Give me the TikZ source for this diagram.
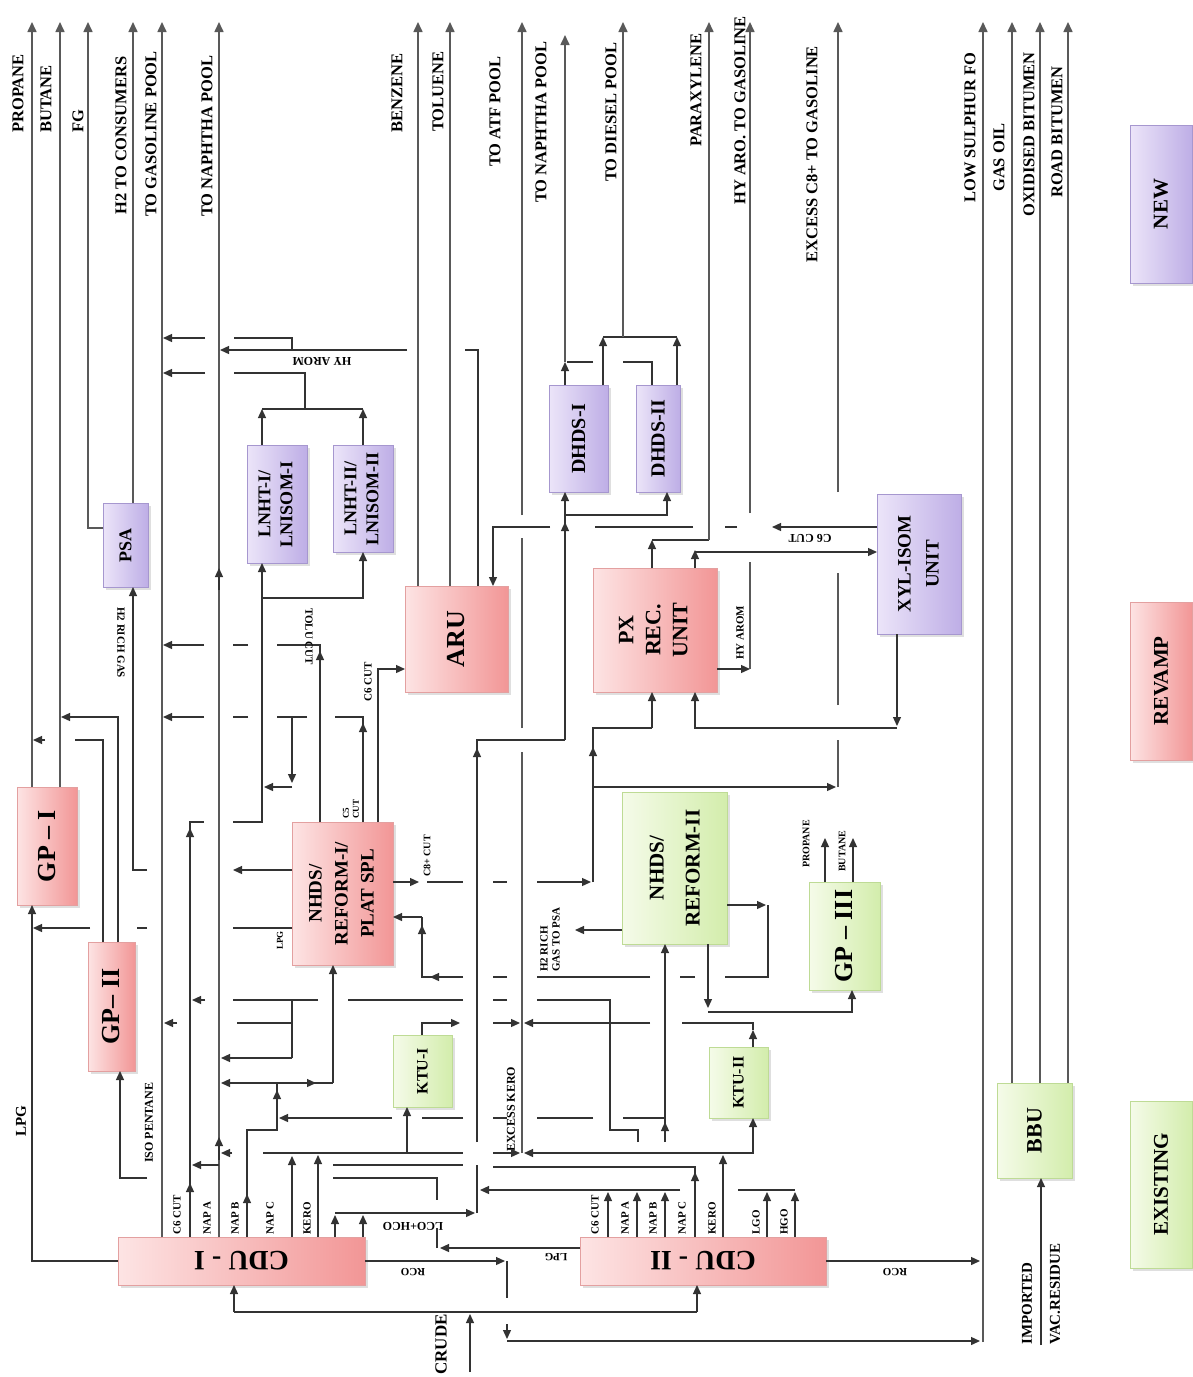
\documentclass[tikz,border=0pt]{standalone}
\usepackage{fontspec}
\setmainfont{Liberation Serif}
\usetikzlibrary{arrows.meta,shadows}
\definecolor{rL}{HTML}{FDE4E4}\definecolor{rR}{HTML}{F29696}\definecolor{rD}{HTML}{E3A0A0}
\definecolor{pL}{HTML}{ECE5F9}\definecolor{pR}{HTML}{BEAEE6}\definecolor{pD}{HTML}{A697CF}
\definecolor{gL}{HTML}{F5FBE9}\definecolor{gR}{HTML}{D3EDAC}\definecolor{gD}{HTML}{BEDB95}
\tikzset{
 every node/.style={font=\bfseries},
 ln/.style={line width=1.3pt, draw=black!80},
 pl/.style={line width=1.6pt, draw=black!65},
 ar/.style={ln, -{Triangle[length=9pt,width=8pt]}},
 par/.style={pl, -{Triangle[length=10pt,width=9pt]}},
 bx/.style={inner sep=0pt, outer sep=0pt, line width=0.8pt, align=center,
   drop shadow={opacity=0.25, shadow xshift=2.5pt, shadow yshift=-2.5pt}},
 rbox/.style={bx, draw=rD, left color=rL, right color=rR},
 pbox/.style={bx, draw=pD, left color=pL, right color=pR},
 gbox/.style={bx, draw=gD, left color=gL, right color=gR},
 lab/.style={font=\bfseries\fontsize{16.5}{18}\selectfont, rotate=90, anchor=west, inner sep=0pt},
 sm/.style={font=\bfseries\fontsize{11}{12}\selectfont, inner sep=0pt},
 smv/.style={sm, rotate=90, anchor=west},
 big/.style={font=\bfseries\fontsize{26}{28}\selectfont},
 mid/.style={font=\bfseries\fontsize{20}{23}\selectfont},
}
\begin{document}
\begin{tikzpicture}[x=1pt,y=-1pt]
\fill[white] (0,0) rectangle (1193,1377);
\useasboundingbox (0,0) rectangle (1193,1377);

% ---------- boxes ----------
\node[rbox, big, minimum width=60pt, minimum height=118pt] (gp1) at (47,846) {\rotatebox{90}{GP – I}};
\node[rbox, big, minimum width=47pt, minimum height=129pt] (gp2) at (111.5,1006.5) {\rotatebox{90}{GP– II}};
\node[pbox, font=\bfseries\fontsize{18}{20}\selectfont, minimum width=45pt, minimum height=84pt] (psa) at (125.5,545) {\rotatebox{90}{PSA}};
\node[pbox, font=\bfseries\fontsize{18}{22}\selectfont, minimum width=60pt, minimum height=118pt] (lnht1) at (277,504) {\rotatebox{90}{\begin{tabular}{@{}c@{}}LNHT-I/\\LNISOM-I\end{tabular}}};
\node[pbox, font=\bfseries\fontsize{18}{22}\selectfont, minimum width=60pt, minimum height=107pt] (lnht2) at (363,498.5) {\rotatebox{90}{\begin{tabular}{@{}c@{}}LNHT-II/\\LNISOM-II\end{tabular}}};
\node[rbox, font=\bfseries\fontsize{19}{26}\selectfont, minimum width=101pt, minimum height=143pt] (nhds1) at (342.5,893.5) {\rotatebox{90}{\begin{tabular}{@{}c@{}}NHDS/\\REFORM-I/\\PLAT SPL\end{tabular}}};
\node[rbox, big, minimum width=103pt, minimum height=106pt] (aru) at (456.5,639) {\rotatebox{90}{ARU}};
\node[pbox, mid, minimum width=59pt, minimum height=107pt] (dhds1) at (578.5,438.5) {\rotatebox{90}{DHDS-I}};
\node[pbox, mid, minimum width=44pt, minimum height=107pt] (dhds2) at (658,438.5) {\rotatebox{90}{DHDS-II}};
\node[rbox, font=\bfseries\fontsize{22}{27}\selectfont, minimum width=124pt, minimum height=124pt] (px) at (655,630) {\rotatebox{90}{\begin{tabular}{@{}c@{}}PX\\REC.\\UNIT\end{tabular}}};
\node[pbox, font=\bfseries\fontsize{19}{28}\selectfont, minimum width=84pt, minimum height=140pt] (xyl) at (919,564) {\rotatebox{90}{\begin{tabular}{@{}c@{}}XYL-ISOM\\UNIT\end{tabular}}};
\node[gbox, font=\bfseries\fontsize{21}{36}\selectfont, minimum width=105pt, minimum height=152pt] (nhds2) at (674.5,868) {\rotatebox{90}{\begin{tabular}{@{}c@{}}NHDS/\\REFORM-II\end{tabular}}};
\node[gbox, big, minimum width=71pt, minimum height=108pt] (gp3) at (844.5,936) {\rotatebox{90}{GP – III}};
\node[gbox, font=\bfseries\fontsize{16}{18}\selectfont, minimum width=59pt, minimum height=72pt] (ktu1) at (422.5,1071) {\rotatebox{90}{KTU-I}};
\node[gbox, font=\bfseries\fontsize{16}{18}\selectfont, minimum width=59pt, minimum height=71pt] (ktu2) at (738.5,1082.5) {\rotatebox{90}{KTU-II}};
\node[rbox, font=\bfseries\fontsize{28}{30}\selectfont, minimum width=247pt, minimum height=48pt] (cdu1) at (241.5,1261) {\rotatebox{180}{CDU - I}};
\node[rbox, font=\bfseries\fontsize{28}{30}\selectfont, minimum width=246pt, minimum height=48pt] (cdu2) at (703,1261) {\rotatebox{180}{CDU - II}};
\node[gbox, font=\bfseries\fontsize{22}{24}\selectfont, minimum width=75pt, minimum height=95pt] (bbu) at (1034.5,1130.5) {\rotatebox{90}{BBU}};
\node[pbox, font=\bfseries\fontsize{21}{23}\selectfont, minimum width=62pt, minimum height=158pt] (lgnew) at (1161,204) {\rotatebox{90}{NEW}};
\node[rbox, font=\bfseries\fontsize{21}{23}\selectfont, minimum width=62pt, minimum height=158pt] (lgrev) at (1161,681) {\rotatebox{90}{REVAMP}};
\node[gbox, font=\bfseries\fontsize{21}{23}\selectfont, minimum width=62pt, minimum height=167pt] (lgex) at (1161,1184.5) {\rotatebox{90}{EXISTING}};

% ---------- top product labels ----------
\node[lab] (t1) at (18,133) {PROPANE};
\node[lab] (t2) at (46,133) {BUTANE};
\node[lab] (t3) at (78,133) {FG};
\node[lab] (t4) at (121,215) {H2 TO CONSUMERS};
\node[lab] (t5) at (151,217) {TO GASOLINE POOL};
\node[lab] (t6) at (207,217) {TO NAPHTHA POOL};
\node[lab] (t7) at (397,133) {BENZENE};
\node[lab] (t8) at (438,132) {TOLUENE};
\node[lab] (t9) at (495,167) {TO ATF POOL};
\node[lab] (t10) at (541,203) {TO NAPHTHA POOL};
\node[lab] (t11) at (611,182) {TO DIESEL POOL};
\node[lab] (t12) at (696,147) {PARAXYLENE};
\node[lab] (t13) at (740,205) {HY ARO. TO GASOLINE};
\node[lab] (t14) at (812,263) {EXCESS C8+ TO GASOLINE};
\node[lab] (t15) at (970,203) {LOW SULPHUR FO};
\node[lab] (t16) at (999,192) {GAS OIL};
\node[lab] (t17) at (1029,217) {OXIDISED BITUMEN};
\node[lab] (t18) at (1057,198) {ROAD BITUMEN};

% ---------- product lines ----------
\draw[par] (32,0 |- gp1.north) -- (32,22);
\draw[par] (60,0 |- gp1.north) -- (60,22);
\draw[par] (psa.west |- 0,528) -- (88,528) -- (88,22);
\draw[par] (133,0 |- psa.north) -- (133,22);
\draw[par] (162,0 |- cdu1.north) -- (162,22);
\draw[par] (219,0 |- cdu1.north) -- (219,22);
\draw[par] (418,0 |- aru.north) -- (418,22);
\draw[par] (450,0 |- aru.north) -- (450,22);
\draw[pl] (522,1153) -- (522,752);
\draw[pl] (522,728) -- (522,538);
\draw[par] (522,515) -- (522,22);
\draw[ar] (565,0 |- dhds1.north) -- (565,362);
\draw[par] (565,362) -- (565,35);
\draw[ar] (603,0 |- dhds1.north) -- (603,337);
\draw[ar] (677,0 |- dhds2.north) -- (677,337);
\draw[ln] (603,337) -- (677,337);
\draw[par] (623,337) -- (623,22);
\draw[ln] (652,0 |- dhds2.north) -- (652,362) -- (623,362);
\draw[ln] (593,362) -- (567,362);
\draw[ar] (652,0 |- px.north) -- (652,540);
\draw[ln] (652,540) -- (709,540);
\draw[par] (709,540) -- (709,22);
\draw[ar] (px.east |- 0,669) -- (750,669);
\draw[pl] (750,669) -- (750,562);
\draw[par] (750,513) -- (750,22);
\draw[pl] (838,787) -- (838,740);
\draw[pl] (838,705) -- (838,573);
\draw[par] (838,492) -- (838,22);
\draw[par] (983,1342) -- (983,22);
\draw[par] (1012,0 |- bbu.north) -- (1012,22);
\draw[par] (1040,0 |- bbu.north) -- (1040,22);
\draw[par] (1068,0 |- bbu.north) -- (1068,22);
\draw[ar] (1041,1345) -- (1041,0 |- bbu.south);
\node[sm, font=\bfseries\fontsize{15}{16}\selectfont, rotate=90, anchor=west] (imp1) at (1027,1345) {IMPORTED};
\node[sm, font=\bfseries\fontsize{15}{16}\selectfont, rotate=90, anchor=west] (imp2) at (1055,1345) {VAC.RESIDUE};

% ---------- left side ----------
\draw[ar] (cdu1.west) -- (32,1261) -- (32,0 |- gp1.south);
\node[smv, font=\bfseries\fontsize{15}{16}\selectfont] (lpg1) at (21,1137) {LPG};
\draw[ln] (103,0 |- gp2.north) -- (103,740) -- (75,740);
\draw[ar] (45,740) -- (33,740);
\draw[ar] (118,0 |- gp2.north) -- (118,717) -- (61,717);
\draw[ar] (147,1178) -- (120,1178) -- (120,0 |- gp2.south);
\node[smv, font=\bfseries\fontsize{12}{13}\selectfont] (iso) at (149,1163) {ISO PENTANE};
\draw[ar] (nhds1.west |- 0,870) -- (233,870);
\draw[ar] (147,870) -- (133,870) -- (133,0 |- psa.south);
\node[sm, rotate=-90, anchor=west] (h2r) at (121,607) {H2 RICH GAS};
\draw[ln] (nhds1.west |- 0,928) -- (233,928);
\draw[ln] (147,928) -- (137,928);
\draw[ar] (90,928) -- (33,928);
\node[smv, font=\bfseries\fontsize{9}{10}\selectfont] (lpg2) at (280,950) {LPG};

% C6 cut CDU-I to LNHT
\draw[ln] (190,0 |- cdu1.north) -- (190,822) -- (204,822);
\draw[ar] (190,1200) -- (190,1183);
\draw[ar] (190,846) -- (190,828);
\draw[ar] (233,822) -- (262,822) -- (262,0 |- lnht1.south);
\draw[ar] (262,598) -- (363,598) -- (363,0 |- lnht2.south);
\draw[ar] (262,0 |- lnht1.north) -- (262,409);
\draw[ar] (363,0 |- lnht2.north) -- (363,409);
\draw[ln] (262,409) -- (363,409);
\draw[ln] (305,409) -- (305,373) -- (234,373);
\draw[ar] (205,373) -- (163,373);
\draw[ln] (292,350) -- (292,338) -- (234,338);
\draw[ar] (205,338) -- (163,338);
\draw[ln] (478,0 |- aru.north) -- (478,350) -- (465,350);
\draw[ar] (407,350) -- (220,350);
\node[sm, font=\bfseries\fontsize{12}{13}\selectfont, rotate=180] (hya1) at (322,361) {HY AROM};
\draw[ar] (219,590) -- (219,568);

% NHDS-I top cuts
\draw[ln] (320,0 |- nhds1.north) -- (320,645) -- (277,645);
\draw[ar] (320,672) -- (320,651);
\draw[ln] (248,645) -- (233,645);
\draw[ar] (204,645) -- (163,645);
\node[sm, rotate=-90, anchor=west] (tolu) at (309,608) {TOLU CUT};
\draw[ln] (363,0 |- nhds1.north) -- (363,717) -- (335,717);
\draw[ar] (363,745) -- (363,723);
\draw[ln] (307,717) -- (277,717);
\draw[ln] (248,717) -- (233,717);
\draw[ar] (204,717) -- (163,717);
\draw[ar] (292,717) -- (292,783);
\draw[ar] (292,787) -- (264,787);
\node[smv, font=\bfseries\fontsize{9}{10}\selectfont, align=left] (c5) at (351,819) {C5\\CUT};
\draw[ar] (378,0 |- nhds1.north) -- (378,669) -- (aru.west |- 0,669);
\node[smv] (c6a) at (368,702) {C6 CUT};

% NHDS-I right side
\draw[ar] (nhds1.east |- 0,882) -- (419,882);
\node[smv, font=\bfseries\fontsize{10}{11}\selectfont] (c8) at (427,877) {C8+ CUT};
\draw[ln] (427,882) -- (463,882);
\draw[ln] (493,882) -- (507,882);
\draw[ar] (537,882) -- (591,882);
\draw[ln] (593,882) -- (593,728) -- (652,728);
\draw[ar] (593,766) -- (593,747);
\draw[ar] (652,728) -- (652,0 |- px.south);
\draw[ar] (593,787) -- (836,787);

% PX / XYL
\draw[ar] (897,0 |- xyl.south) -- (897,726);
\draw[ar] (897,728) -- (695,728) -- (695,0 |- px.south);
\draw[ar] (695,0 |- px.north) -- (695,550);
\draw[ar] (695,552) -- (xyl.west |- 0,552);
\draw[ar] (xyl.west |- 0,527) -- (772,527);
\draw[ln] (737,527) -- (725,527);
\draw[ln] (693,527) -- (595,527);
\draw[ar] (550,527) -- (493,527) -- (493,0 |- aru.north);
\node[sm, font=\bfseries\fontsize{12}{13}\selectfont, rotate=180] (c6x) at (810,538) {C6 CUT};
\node[smv] (hya2) at (740,660) {HY AROM};

% DHDS feed
\draw[ln] (477,1213) -- (477,1165);
\draw[ln] (477,1142) -- (477,740) -- (565,740);
\draw[ar] (477,770) -- (477,748);
\draw[ar] (565,740) -- (565,0 |- dhds1.south);
\draw[ar] (565,540) -- (565,522);
\draw[ar] (565,515) -- (667,515) -- (667,0 |- dhds2.south);

% NHDS-II loop to NHDS-I
\draw[ar] (nhds2.east |- 0,905) -- (766,905);
\draw[ln] (768,905) -- (768,977) -- (725,977);
\draw[ln] (695,977) -- (680,977);
\draw[ln] (650,977) -- (537,977);
\draw[ln] (507,977) -- (493,977);
\draw[ln] (463,977) -- (422,977) -- (422,917);
\draw[ar] (446,977) -- (430,977);
\draw[ar] (422,945) -- (422,925);
\draw[ar] (422,917) -- (nhds1.east |- 0,917);

% y 1000 / 1023 lines
\draw[ln] (638,1142) -- (638,1130) -- (610,1130) -- (610,1000) -- (537,1000);
\draw[ln] (507,1000) -- (493,1000);
\draw[ln] (463,1000) -- (348,1000);
\draw[ln] (318,1000) -- (233,1000);
\draw[ar] (205,1000) -- (192,1000);
\draw[ln] (292,1000) -- (292,1058);
\draw[ar] (292,1058) -- (221,1058);
\draw[ln] (237,1023) -- (292,1023);
\draw[ar] (177,1023) -- (164,1023);

% KTU
\draw[ar] (422,0 |- ktu1.north) -- (422,1023) -- (460,1023);
\draw[ar] (493,1023) -- (520,1023);
\draw[ar] (753,0 |- ktu2.north) -- (753,1030);
\draw[ln] (753,1030) -- (753,1023) -- (682,1023);
\draw[ar] (650,1023) -- (524,1023);
\node[smv, font=\bfseries\fontsize{12}{13}\selectfont] (exk) at (511,1152) {EXCESS KERO};

% y 1118 line
\draw[ln] (665,1118) -- (623,1118);
\draw[ln] (593,1118) -- (537,1118);
\draw[ln] (507,1118) -- (493,1118);
\draw[ln] (463,1118) -- (422,1118);
\draw[ar] (392,1118) -- (279,1118);
\draw[ar] (665,1142) -- (665,0 |- nhds2.south);
\draw[ar] (665,1137) -- (665,1122);

% CDU-I outputs
\draw[ln] (247,0 |- cdu1.north) -- (247,1130) -- (277,1130) -- (277,1083);
\draw[ar] (247,1212) -- (247,1194);
\draw[ar] (277,1106) -- (277,1090);
\draw[ar] (277,1083) -- (221,1083);
\draw[ln] (277,1083) -- (333,1083);
\draw[ar] (292,1083) -- (316,1083);
\draw[ar] (333,1083) -- (333,0 |- nhds1.south);
\draw[ar] (318,0 |- cdu1.north) -- (318,1155);
\draw[ln] (318,1153) -- (463,1153);
\draw[ar] (493,1153) -- (520,1153);
\draw[ln] (318,1153) -- (263,1153);
\draw[ar] (232,1153) -- (221,1153);
\draw[ar] (407,1153) -- (407,0 |- ktu1.south);
\draw[ar] (292,0 |- cdu1.north) -- (292,1156);
\draw[ar] (219,1160) -- (219,1137);
\draw[ar] (219,1165) -- (192,1165);
\draw[ar] (335,0 |- cdu1.north) -- (335,1215);
\draw[ar] (363,0 |- cdu1.north) -- (363,1215);
\draw[ar] (335,1213) -- (475,1213);
\node[sm, font=\bfseries\fontsize{12}{13}\selectfont, rotate=180] (lco) at (413,1226) {LCO+HCO};
\node[smv] (c1a) at (177,1235) {C6 CUT};
\node[smv] (c1b) at (207,1235) {NAP A};
\node[smv] (c1c) at (235,1235) {NAP B};
\node[smv] (c1d) at (270,1235) {NAP C};
\node[smv] (c1e) at (307,1235) {KERO};

% middle lines near CDUs
\draw[ln] (333,1165) -- (463,1165);
\draw[ln] (493,1167) -- (695,1167) -- (695,0 |- cdu2.north);
\draw[ar] (695,1192) -- (695,1172);
\draw[ln] (333,1178) -- (437,1178) -- (437,1200);
\draw[ar] (680,1190) -- (480,1190);
\draw[ar] (608,0 |- cdu2.north) -- (608,1192);
\draw[ar] (637,0 |- cdu2.north) -- (637,1192);
\draw[ar] (665,0 |- cdu2.north) -- (665,1192);
\draw[ar] (723,0 |- cdu2.north) -- (723,1155);
\draw[ar] (723,1153) -- (524,1153);
\draw[ar] (723,1153) -- (753,1153) -- (753,0 |- ktu2.south);
\draw[ar] (767,0 |- cdu2.north) -- (767,1192);
\draw[ar] (795,0 |- cdu2.north) -- (795,1192);
\draw[ln] (738,1190) -- (795,1190);
\node[smv] (c2a) at (595,1235) {C6 CUT};
\node[smv] (c2b) at (625,1235) {NAP A};
\node[smv] (c2c) at (653,1235) {NAP B};
\node[smv] (c2d) at (682,1235) {NAP C};
\node[smv] (c2e) at (712,1235) {KERO};
\node[smv] (c2f) at (756,1235) {LGO};
\node[smv] (c2g) at (784,1235) {HGO};

% LPG, RCO, crude
\draw[ar] (cdu2.west |- 0,1248) -- (440,1248);
\draw[ln] (437,1248) -- (437,1228);
\node[sm, rotate=180] (lpg3) at (556,1257) {LPG};
\draw[ar] (cdu1.east) -- (505,1261);
\draw[ln] (507,1261) -- (507,1298);
\draw[ar] (507,1324) -- (507,1339);
\draw[ar] (507,1341) -- (980,1341);
\node[sm, rotate=180] (rco1) at (413,1272) {RCO};
\draw[ar] (cdu2.east) -- (980,1261);
\node[sm, rotate=180] (rco2) at (895,1272) {RCO};
\draw[ar] (470,1372) -- (470,1314);
\draw[ln] (234,1312) -- (697,1312);
\draw[ar] (234,1312) -- (234,0 |- cdu1.south);
\draw[ar] (697,1312) -- (697,0 |- cdu2.south);
\node[lab, font=\bfseries\fontsize{17}{18}\selectfont] (crude) at (441,1375) {CRUDE};

% NHDS-II outputs, GP-III
\draw[ar] (nhds2.west |- 0,930) -- (575,930);
\node[smv, font=\bfseries\fontsize{11}{12}\selectfont, align=left] (h2p) at (550,972) {H2 RICH\\GAS TO PSA};
\draw[ar] (708,0 |- nhds2.south) -- (708,1008);
\draw[ar] (708,1012) -- (852,1012) -- (852,0 |- gp3.south);
\draw[ar] (825,0 |- gp3.north) -- (825,838);
\draw[ar] (853,0 |- gp3.north) -- (853,838);
\node[smv, font=\bfseries\fontsize{10}{11}\selectfont] (gpp) at (806,868) {PROPANE};
\node[smv, font=\bfseries\fontsize{10}{11}\selectfont] (gpb) at (842,872) {BUTANE};
\end{tikzpicture}
\end{document}
